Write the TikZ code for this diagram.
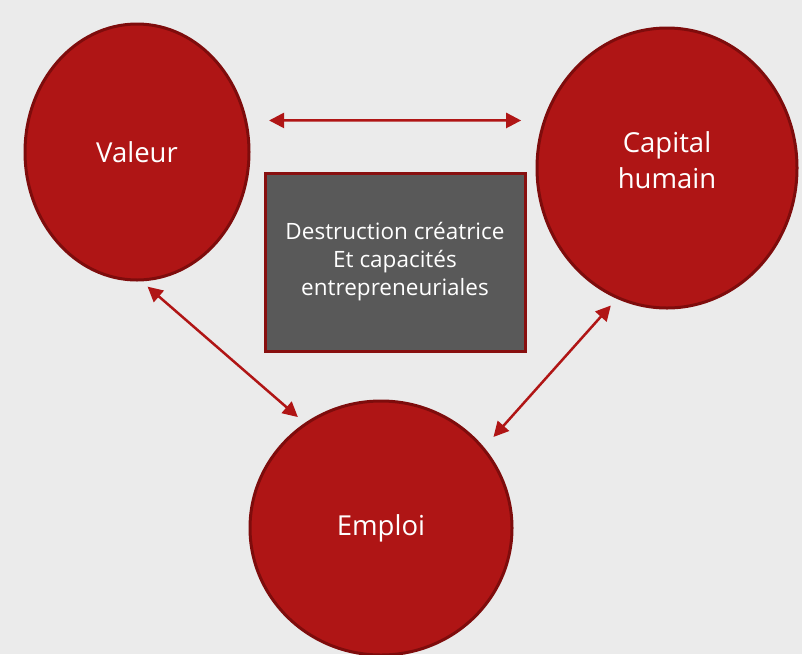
\documentclass[tikz,border=0pt]{standalone}
\usepackage{fontspec}
\setmainfont{Open Sans}
\usetikzlibrary{shapes.geometric,arrows.meta}
\definecolor{bgc}{HTML}{EBEBEB}
\definecolor{redfill}{HTML}{AF1515}
\definecolor{redline}{HTML}{7E0C0C}
\definecolor{boxfill}{HTML}{595959}
\definecolor{boxline}{HTML}{880F0F}
\definecolor{arrc}{HTML}{B01515}
\tikzset{
  bubbletext/.style={text=white, align=center, font=\fontsize{27.5}{36}\selectfont},
  bubble/.style={ellipse, fill=redfill, draw=redline, line width=3pt, inner sep=0pt, bubbletext},
  centerbox/.style={rectangle, fill=boxfill, draw=boxline, line width=3pt, inner sep=0pt,
    text=white, align=center, font=\fontsize{22.5}{28}\selectfont},
  link/.style={draw=arrc, line width=2.5pt, {Triangle[length=15pt,width=15pt]}-{Triangle[length=15pt,width=15pt]}}
}
\begin{document}
\begin{tikzpicture}[x=1pt,y=1pt]
\fill[bgc] (0,0) rectangle (802,-654);
\useasboundingbox (0,0) rectangle (802,-654);
\node[bubble, minimum width=224pt, minimum height=256pt] (V) at (137,-152) {Valeur};
\node[bubble, minimum width=260pt, minimum height=280pt,
  label={[bubbletext, yshift=8pt]center:Capital\\humain}] (C) at (667,-168) {};
\node[bubble, minimum width=262pt, minimum height=254pt] (E) at (381,-528) {Emploi};
\node[centerbox, minimum width=260pt, minimum height=178pt] (B) at (395,-262) {Destruction créatrice\\Et capacités\\entrepreneuriales};
\draw[link, shorten <=22pt, shorten >=22pt] (V.16.5) -- (C.159);
\draw[link, shorten <=8pt, shorten >=9pt] (V.-88) -- (E.126);
\draw[link, shorten <=14pt, shorten >=9pt] (E.38.5) -- (C.249.7);
\end{tikzpicture}
\end{document}
